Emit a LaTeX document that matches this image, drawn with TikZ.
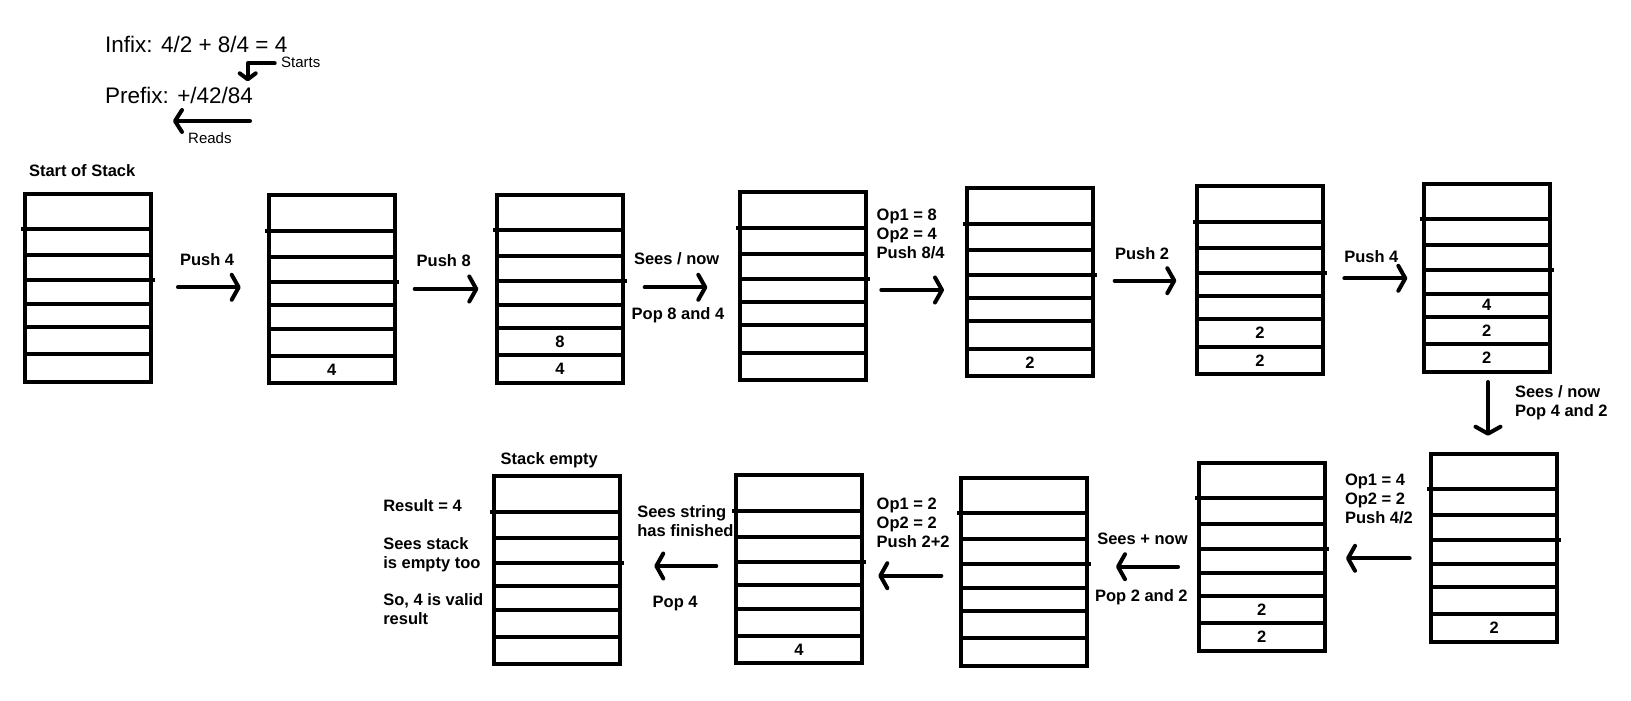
\documentclass[tikz,border=0pt]{standalone}
\usepackage{fontspec}
\setmainfont{Liberation Sans}
\usetikzlibrary{arrows.meta}
\tikzset{
  stackbox/.style={draw, line width=4pt, minimum width=126pt, minimum height=188pt, inner sep=0pt, outer sep=0pt, anchor=north west},
  divider/.style={line width=4pt},
  boldlbl/.style={font=\bfseries\fontsize{16.5pt}{19pt}\selectfont, inner sep=0pt, outer sep=0pt, align=left},
  cellnum/.style={font=\bfseries\fontsize{16.5pt}{19pt}\selectfont, inner sep=0pt},
  headlbl/.style={font=\fontsize{22.5pt}{26pt}\selectfont, inner sep=0pt, anchor=base west},
  smalllbl/.style={font=\fontsize{15pt}{18pt}\selectfont, inner sep=0pt, anchor=base west},
  flow/.style={line width=4pt, line cap=round, line join=round, -{Straight Barb[length=7pt,width=25pt,round]}},
  smallflow/.style={line width=4pt, line cap=round, line join=round, -{Straight Barb[length=6pt,width=16pt,round]}},
}
\newcommand{\mystack}[3]{%
  \node[stackbox] (#1) at (#2+2,#3+2) {};
  \draw[divider] ([xshift=-4pt,yshift=-35.5pt]#1.north west) -- ([yshift=-35.5pt]#1.north east);
  \draw[divider] ([yshift=-61.5pt]#1.north west) -- ([yshift=-61.5pt]#1.north east);
  \draw[divider] ([yshift=-86.5pt]#1.north west) -- ([xshift=4pt,yshift=-86.5pt]#1.north east);
  \foreach \d in {109.8pt,133.2pt,160.5pt}{\draw[divider] ([yshift=-\d]#1.north west) -- ([yshift=-\d]#1.north east);}
}
\begin{document}
\begin{tikzpicture}[x=1pt,y=-1pt]
\useasboundingbox[fill=white] (0,0) rectangle (1631,701);

% header
\node[headlbl] (infix) at (105,53) {Infix: 4/2 + 8/4 = 4};
\node[headlbl] (prefix) at (105,103) {Prefix: +/42/84};
\node[smalllbl] (starts) at (281,67.3) {Starts};
\node[smalllbl] (reads) at (188,143.5) {Reads};
\coordinate (st1) at (274.7,63.3);
\coordinate (st2) at (247.7,63.3);
\coordinate (st3) at (247.7,81.3);
\draw[smallflow] (st1) -- (st2) -- (st3);
\coordinate (rd1) at (250,121);
\coordinate (rd2) at (173,121);
\draw[line width=4pt, line cap=round, -{Straight Barb[length=7pt,width=22pt,round]}] (rd1) -- (rd2);

% stacks
\mystack{s1}{23.3}{191.7}
\mystack{s2}{266.7}{193.3}
\mystack{s3}{495}{192.7}
\mystack{s4}{738.3}{190}
\mystack{s5}{965}{186}
\mystack{s6}{1195}{184}
\mystack{s7}{1421.7}{181.7}
\mystack{s8}{1429.3}{451.7}
\mystack{s9}{1196.7}{460.7}
\mystack{s10}{959.3}{475.7}
\mystack{s11}{734}{473.3}
\mystack{s12}{491.7}{474.3}

% cell contents
\node[cellnum] (c2a) at ([yshift=-174.3pt]s2.north) {4};
\node[cellnum] (c3a) at ([yshift=-146.9pt]s3.north) {8};
\node[cellnum] (c3b) at ([yshift=-174.3pt]s3.north) {4};
\node[cellnum] (c5a) at ([yshift=-174.3pt]s5.north) {2};
\node[cellnum] (c6a) at ([yshift=-146.9pt]s6.north) {2};
\node[cellnum] (c6b) at ([yshift=-174.3pt]s6.north) {2};
\node[cellnum] (c7a) at ([yshift=-121.5pt]s7.north) {4};
\node[cellnum] (c7b) at ([yshift=-146.9pt]s7.north) {2};
\node[cellnum] (c7c) at ([yshift=-174.3pt]s7.north) {2};
\node[cellnum] (c8a) at ([yshift=-174.3pt]s8.north) {2};
\node[cellnum] (c9a) at ([yshift=-146.9pt]s9.north) {2};
\node[cellnum] (c9b) at ([yshift=-174.3pt]s9.north) {2};
\node[cellnum] (c11a) at ([yshift=-174.3pt]s11.north) {4};

% labels
\node[boldlbl, anchor=base west] (l0) at (29,176.7) {Start of Stack};
\node[boldlbl, anchor=base west] (l1) at (180,265) {Push 4};
\node[boldlbl, anchor=base west] (l2) at (416.7,266.4) {Push 8};
\node[boldlbl, anchor=base west] (l3a) at (634,264) {Sees / now};
\node[boldlbl, anchor=base west] (l3b) at (631.7,319) {Pop 8 and 4};
\node[boldlbl, anchor=north west] (l4) at (876.7,209) {Op1 = 8\\Op2 = 4\\Push 8/4};
\node[boldlbl, anchor=base west] (l5) at (1115,259.8) {Push 2};
\node[boldlbl, anchor=base west] (l6) at (1344.3,262.4) {Push 4};
\node[boldlbl, anchor=north west] (l7) at (1515,385.7) {Sees / now\\Pop 4 and 2};
\node[boldlbl, anchor=north west] (l8) at (1345,474) {Op1 = 4\\Op2 = 2\\Push 4/2};
\node[boldlbl, anchor=base west] (l9a) at (1097.3,544) {Sees + now};
\node[boldlbl, anchor=base west] (l9b) at (1095,601.4) {Pop 2 and 2};
\node[boldlbl, anchor=north west] (l10) at (876.7,498) {Op1 = 2\\Op2 = 2\\Push 2+2};
\node[boldlbl, anchor=north west] (l11a) at (637.3,505.7) {Sees string\\has finished};
\node[boldlbl, anchor=base west] (l11b) at (652.7,607.4) {Pop 4};
\node[boldlbl, anchor=base west] (l12) at (500.7,464) {Stack empty};
\node[boldlbl, anchor=base west] (r1) at (383.3,511.4) {Result = 4};
\node[boldlbl, anchor=north west] (r2) at (383.3,537.3) {Sees stack\\is empty too};
\node[boldlbl, anchor=north west] (r3) at (383.3,594) {So, 4 is valid\\result};

% arrows
\coordinate (a1s) at (178,287.3);   \coordinate (a1e) at (240.7,287.3);
\coordinate (a2s) at (414.7,289);   \coordinate (a2e) at (478.3,289);
\coordinate (a3s) at (644.7,287.3); \coordinate (a3e) at (707.3,287.3);
\coordinate (a4s) at (881.3,290);   \coordinate (a4e) at (944,290);
\coordinate (a5s) at (1114.7,280.7);\coordinate (a5e) at (1176.3,280.7);
\coordinate (a6s) at (1344.3,278.3);\coordinate (a6e) at (1407.3,278.3);
\coordinate (a7s) at (1488,382);    \coordinate (a7e) at (1488,435.7);
\coordinate (a8s) at (1409.7,558.3);\coordinate (a8e) at (1346,558.3);
\coordinate (a9s) at (1178,566.7);  \coordinate (a9e) at (1116,566.7);
\coordinate (a10s) at (941.3,575.7);\coordinate (a10e) at (878.3,575.7);
\coordinate (a11s) at (716.3,566);  \coordinate (a11e) at (654.3,566);
\foreach \i in {1,...,11}{\draw[flow] (a\i s) -- (a\i e);}
\end{tikzpicture}
\end{document}
